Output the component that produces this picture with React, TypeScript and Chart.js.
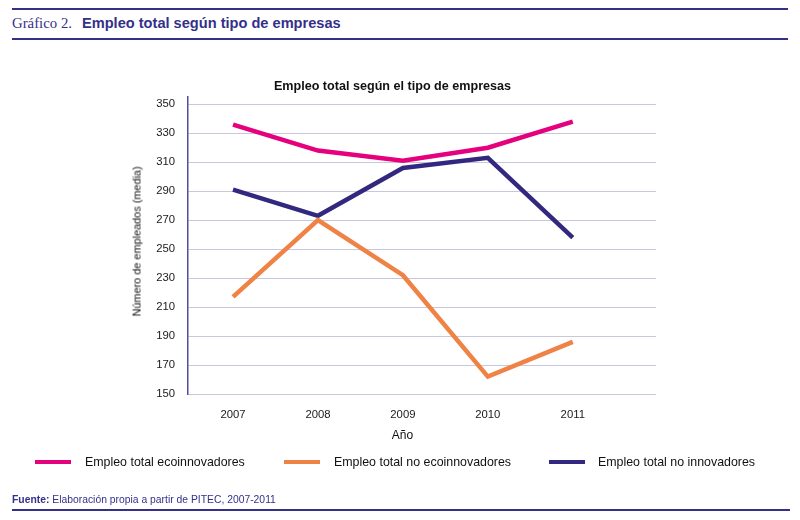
import React, { useEffect, useRef } from "react";
import { Chart, registerables } from "chart.js";

Chart.register(...registerables);

const years = [2007, 2008, 2009, 2010, 2011];
const ecoinnovadores = [336, 318, 311, 320, 338];
const noEcoinnovadores = [217, 270, 232, 162, 186];
const noInnovadores = [291, 273, 306, 313, 258];
const yTicks = [150, 170, 190, 210, 230, 250, 270, 290, 310, 330, 350];
const seriesNames = [
  "Empleo total ecoinnovadores",
  "Empleo total no ecoinnovadores",
  "Empleo total no innovadores",
];
const seriesColors = ["#e5007d", "#ef8245", "#32287f"];
const seriesValues = [ecoinnovadores, noEcoinnovadores, noInnovadores];

const NAVY = "#34308a";
const SANS = "'Liberation Sans', Arial, sans-serif";

function Text(props: {
  left: number;
  baseline: number;
  size: number;
  children: React.ReactNode;
  style?: React.CSSProperties;
}) {
  const { left, baseline, size, children, style } = props;
  return (
    <div
      style={{
        position: "absolute",
        left,
        top: baseline - 0.8465 * size,
        fontSize: size,
        lineHeight: `${size}px`,
        fontFamily: SANS,
        whiteSpace: "nowrap",
        ...style,
      }}
    >
      {children}
    </div>
  );
}

export default function App() {
  const ref = useRef<HTMLCanvasElement>(null);

  useEffect(() => {
    const chart = new Chart(ref.current!, {
      type: "line",
      data: {
        datasets: seriesValues.map((vals, i) => ({
          label: seriesNames[i],
          data: years.map((yr, j) => ({ x: yr, y: vals[j] })),
          borderColor: seriesColors[i],
          backgroundColor: seriesColors[i],
          borderWidth: 4.5,
          pointRadius: 0,
          tension: 0,
          borderJoinStyle: "miter" as const,
          borderCapStyle: "butt" as const,
          fill: false,
        })),
      },
      options: {
        animation: false,
        responsive: false,
        maintainAspectRatio: false,
        layout: { padding: { left: 0, top: 97, right: 144, bottom: 0 } },
        plugins: {
          legend: { display: false },
          title: { display: false },
          tooltip: { enabled: false },
        },
        scales: {
          x: {
            type: "linear",
            min: 2006.47,
            max: 2011.98,
            afterBuildTicks: (s: any) => {
              s.ticks = years.map((v) => ({ value: v }));
            },
            afterFit: (s: any) => {
              s.height = 126;
            },
            grid: { display: false, drawTicks: false },
            border: { display: false },
            ticks: {
              padding: 14,
              color: "#1a1a1a",
              font: { family: SANS, size: 11.3 },
              callback: (v: any) => String(v),
            },
          },
          y: {
            type: "linear",
            min: 150,
            max: 355,
            afterBuildTicks: (s: any) => {
              s.ticks = yTicks.map((v) => ({ value: v }));
            },
            afterFit: (s: any) => {
              s.width = 188;
            },
            grid: { color: "#c9c6df", lineWidth: 1, drawTicks: false },
            border: { color: "#524c9c", width: 1.5 },
            ticks: {
              padding: 13,
              color: "#1a1a1a",
              font: { family: SANS, size: 11.3 },
              callback: (v: any) => String(v),
            },
          },
        },
      },
    });
    return () => chart.destroy();
  }, []);

  const legendSwatchLeft = [34.5, 283.5, 549];
  const legendTextLeft = [85, 334, 598];

  return (
    <div
      style={{
        position: "absolute",
        left: 0,
        top: 0,
        width: 800,
        height: 520,
        background: "#ffffff",
        overflow: "hidden",
      }}
    >
      {/* header rules */}
      <div style={{ position: "absolute", left: 12, top: 8, width: 776, height: 2, background: NAVY }} />
      <div style={{ position: "absolute", left: 12, top: 37.5, width: 776, height: 2, background: NAVY }} />
      <div
        style={{
          position: "absolute",
          left: 12,
          top: 28.5 - 0.8465 * 14.6,
          lineHeight: "14.6px",
          whiteSpace: "nowrap",
          color: NAVY,
        }}
      >
        <span style={{ fontFamily: "'Liberation Serif', 'Times New Roman', serif", fontSize: 14.8 }}>
          Gráfico 2.
        </span>
        <span style={{ display: "inline-block", width: 10 }} />
        <span style={{ fontFamily: SANS, fontWeight: "bold", fontSize: 14.6 }}>
          Empleo total según tipo de empresas
        </span>
      </div>

      <canvas
        ref={ref}
        width={800}
        height={520}
        style={{ position: "absolute", left: 0, top: 0, width: 800, height: 520 }}
      />

      {/* chart title */}
      <Text left={192.5} baseline={91} size={12.6} style={{ width: 400, textAlign: "center", fontWeight: "bold", color: "#111" }}>
        Empleo total según el tipo de empresas
      </Text>

      {/* y axis title */}
      <div
        style={{
          position: "absolute",
          left: 137 - 100,
          top: 241.7 - 10.9 / 2,
          width: 200,
          height: 10.9,
          lineHeight: "10.9px",
          fontSize: 10.9,
          fontFamily: SANS,
          textAlign: "center",
          whiteSpace: "nowrap",
          color: "#111",
          transform: "rotate(-90deg)",
          transformOrigin: "50% 50%",
        }}
      >
        Número de empleados (media)
      </div>

      {/* x axis title */}
      <Text left={402.5 - 50} baseline={439.3} size={12} style={{ width: 100, textAlign: "center", color: "#111" }}>
        Año
      </Text>

      {/* legend */}
      {seriesNames.map((name, i) => (
        <React.Fragment key={name}>
          <div
            style={{
              position: "absolute",
              left: legendSwatchLeft[i],
              top: 459.8,
              width: 36,
              height: 4.5,
              background: seriesColors[i],
            }}
          />
          <Text left={legendTextLeft[i]} baseline={466.7} size={12.4} style={{ color: "#111" }}>
            {name}
          </Text>
        </React.Fragment>
      ))}

      {/* footer */}
      <Text
        left={12}
        baseline={503.3}
        size={11.5}
        style={{ color: NAVY, transform: "scaleX(0.9)", transformOrigin: "0 0" }}
      >
        <b>Fuente:</b> Elaboración propia a partir de PITEC, 2007-2011
      </Text>
      <div style={{ position: "absolute", left: 12, top: 508.5, width: 778, height: 2, background: NAVY }} />
    </div>
  );
}
